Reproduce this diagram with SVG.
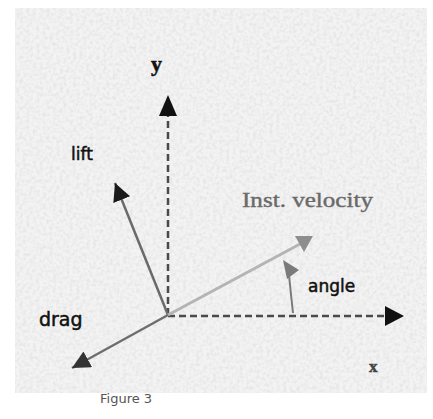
<svg xmlns="http://www.w3.org/2000/svg" width="433" height="419" viewBox="0 0 433 419">
<defs>
<filter id="noise" x="0" y="0" width="100%" height="100%">
<feTurbulence type="fractalNoise" baseFrequency="0.3" numOctaves="2" seed="4" result="n"/>
<feColorMatrix type="matrix" values="0 0 0 0 0.78  0 0 0 0 0.78  0 0 0 0 0.78  0 0 0 -2.2 1.35" in="n"/>
</filter>
<marker id="ah" markerUnits="userSpaceOnUse" markerWidth="22" markerHeight="22" refX="18" refY="9" orient="auto">
<path d="M0,0 L18,9 L0,18 Z" fill="#1a1a1a"/>
</marker>
<marker id="ahg" markerUnits="userSpaceOnUse" markerWidth="22" markerHeight="22" refX="18" refY="9" orient="auto">
<path d="M0,0 L18,9 L0,18 Z" fill="#333"/>
</marker>
<style>
.lbl{font-family:"DejaVu Sans","Liberation Sans",sans-serif;fill:#111;stroke:#111;stroke-width:0.5}
.ser{font-family:"Liberation Serif","DejaVu Serif",serif}
.axis{stroke:#4a4a4a;stroke-width:2.5;stroke-dasharray:7 4;fill:none}
.cap{font-family:"DejaVu Sans","Liberation Sans",sans-serif;fill:#555}
</style>
</defs>
<rect width="433" height="419" fill="#ffffff"/>
<rect x="15" y="8" width="412" height="385" fill="#f3f3f3"/>
<rect x="15" y="8" width="412" height="385" filter="url(#noise)"/>
<g id="connectors">
<line class="axis" x1="168" y1="315" x2="168" y2="112"/>
<path d="M168,95 L159,116 L177,116 Z" fill="#111"/>
<line class="axis" x1="168" y1="316" x2="386" y2="316"/>
<path d="M404,316 L385,306 L385,326 Z" fill="#111"/>
<line x1="168" y1="315" x2="115" y2="183" stroke="#6a6a6a" stroke-width="2.5" marker-end="url(#ah)"/>
<line x1="168" y1="315" x2="72" y2="368" stroke="#6e6e6e" stroke-width="2.5" marker-end="url(#ahg)"/>
<line x1="168" y1="315" x2="300" y2="244" stroke="#b4b4b4" stroke-width="3"/>
<path d="M295,236 L313,236 L304,252 Z" fill="#8e8e8e"/>
<path d="M293,313 Q291,295 289,275" stroke="#7a7a7a" stroke-width="2" fill="none"/>
<path d="M283,260 L299,270 L287,279 Z" fill="#7a7a7a"/>
</g>
<g id="y-label"><text class="lbl ser" x="151" y="71" font-size="22" font-weight="bold">y</text></g>
<g id="x-label"><text class="ser" x="369" y="372" font-size="17" font-weight="bold" fill="#444" stroke="#444" stroke-width="0.5">x</text></g>
<g id="lift"><text class="lbl" x="71" y="160" font-size="17">lift</text></g>
<g id="velocity"><text class="ser" x="242" y="207" font-size="20" fill="#6a6a6a" stroke="#6a6a6a" stroke-width="0.4" textLength="131" lengthAdjust="spacingAndGlyphs">Inst. velocity</text></g>
<g id="angle"><text class="lbl" x="308" y="292" font-size="17">angle</text></g>
<g id="drag"><text class="lbl" x="39" y="326" font-size="19">drag</text></g>
<g id="figure"><text class="cap" x="100" y="403" font-size="13">Figure 3</text></g>
</svg>
